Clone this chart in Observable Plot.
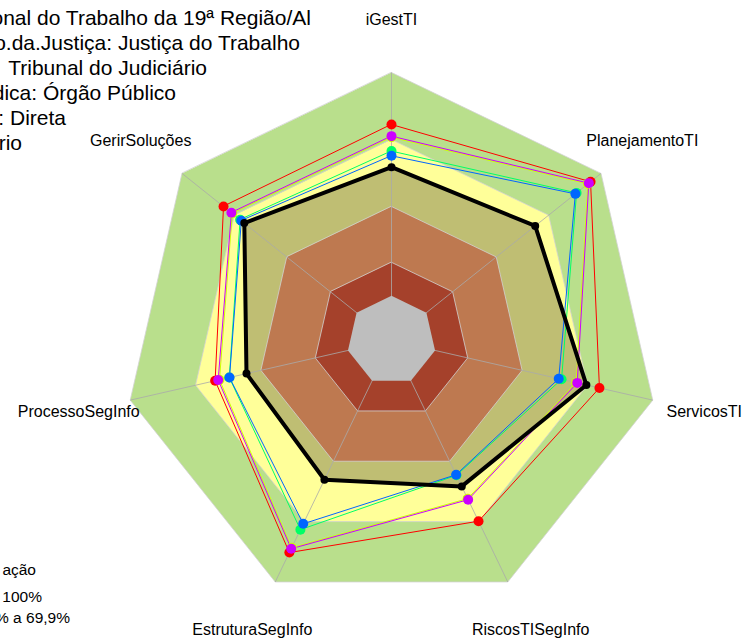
<!DOCTYPE html>
<html><head><meta charset="utf-8">
<script src="https://cdn.jsdelivr.net/npm/d3@7"></script>
<script src="https://cdn.jsdelivr.net/npm/@observablehq/plot@0.6"></script>
<style>
html,body{margin:0;padding:0;background:#fff;overflow:hidden;width:744px;height:641px}
#wrap{position:relative;width:744px;height:641px;overflow:hidden}
#overlay{position:absolute;left:0;top:0;pointer-events:none}
</style></head><body><div id="wrap"></div>
<script>
// Axes (clockwise from top)
const axes = ["iGestTI","PlanejamentoTI","ServicosTI","RiscosTISegInfo","EstruturaSegInfo","ProcessoSegInfo","GerirSoluções"];

// Series values (%)
const serieRed    = [76.7, 94.0, 75.5, 69.8, 85.4, 61.0, 76.2];
const serieLime   = [71.0, 92.5, 64.8, 58.6, 83.0, 59.0, 71.2];
const serieGreen  = [64.8, 86.0, 58.1, 47.0, 74.0, 54.5, 66.7];
const serieBlue   = [62.7, 85.3, 56.8, 46.7, 71.1, 54.4, 66.0];
const seriePurple = [71.5, 93.0, 65.3, 59.1, 83.5, 59.6, 71.7];
const serieOrgao  = [57.6, 62.3, 69.5, 52.5, 49.2, 46.6, 64.3];

// Classification band limits (%)
const bandLevels = [100, 70, 40, 15, 0];

// Text (the block is cut at the left edge, as in the reference)
const infoLines = ["onal do Trabalho da 19ª Região/Al","o.da.Justiça: Justiça do Trabalho","Tribunal do Judiciário","dica: Órgão Público",": Direta","rio"];
const legendLines = ["ação","100%","% a 69,9%"];

const ang = i => i * 2 * Math.PI / 7;
const rad = v => 1/6 + (v / 100) * 5/6;
const X = d => rad(d.v) * Math.sin(ang(d.i));
const Y = d => rad(d.v) * Math.cos(ang(d.i));
const rows = vals => vals.map((v, i) => ({axis: axes[i], i, v}));
const band = lv => axes.map((a, i) => ({axis: a, i, v: lv}));

const bandFill = {100: "#B9DF8C", 70: "#FFFF99", 40: "#BE7950", 15: "#A5412B", 0: "#BEBEBE"};

const font = "'Liberation Sans', Arial, sans-serif";

const seriesDraw = [
  [serieRed, "#FF0000"],
  [serieLime, "#CCFF00"],
  [serieGreen, "#00FF66"],
  [serieBlue, "#0066FF"],
  [seriePurple, "#CC00FF"]
];

const marks = [];
const bandMark = lv => Plot.line(band(lv), {x: X, y: Y, curve: "linear-closed", fill: bandFill[lv], stroke: lv === 0 ? "none" : "#d2d2d2", strokeWidth: 0.8});
marks.push(bandMark(100), bandMark(70));
marks.push(Plot.line(rows(serieOrgao), {x: X, y: Y, curve: "linear-closed", fill: "#BFBE73", stroke: "none"}));
marks.push(bandMark(40), bandMark(15));
marks.push(Plot.link(axes.map((a, i) => ({i})), {x1: 0, y1: 0, x2: d => Math.sin(ang(d.i)), y2: d => Math.cos(ang(d.i)), stroke: "#aaaaaa", strokeWidth: 1, strokeOpacity: 0.8}));
marks.push(bandMark(0));
for (const [vals, col] of seriesDraw) {
  marks.push(Plot.line(rows(vals), {x: X, y: Y, curve: "linear-closed", stroke: col, strokeWidth: 1}));
}
marks.push(Plot.line(rows(serieOrgao), {x: X, y: Y, curve: "linear-closed", stroke: "#000", strokeWidth: 4, strokeLinejoin: "round"}));
for (const [vals, col] of seriesDraw) {
  marks.push(Plot.dot(rows(vals), {x: X, y: Y, r: 5, fill: col, stroke: "none"}));
}
marks.push(Plot.dot(rows(serieOrgao), {x: X, y: Y, r: 4, fill: "#000", stroke: "none"}));
marks.push(Plot.text(axes.map((a, i) => ({a, i})), {
  x: d => 1.197 * Math.sin(ang(d.i)), y: d => 1.197 * Math.cos(ang(d.i)),
  text: d => d.a, fontSize: 16, fill: "#000", textAnchor: "middle"
}));

const chart = Plot.plot({
  width: 744, height: 641, margin: 0,
  x: {domain: [-391/268, 353/268], axis: null},
  y: {domain: [-301/268, 340/268], axis: null},
  style: {fontFamily: font, background: "#fff", overflow: "hidden"},
  marks
});
document.getElementById("wrap").appendChild(chart);

const ov = d3.select("#wrap").append("svg").attr("id", "overlay").attr("width", 744).attr("height", 641);
const infoEnds = [311, 300, 207, 176, 66, 22];
infoLines.forEach((t, k) => {
  ov.append("text").attr("x", infoEnds[k]).attr("y", 24.5 + 25 * k)
    .attr("text-anchor", "end").attr("font-family", font).attr("font-size", 21).attr("fill", "#000").text(t);
});
const legEnds = [36, 42, 70];
const legBase = [575, 602, 623];
legendLines.forEach((t, k) => {
  ov.append("text").attr("x", legEnds[k]).attr("y", legBase[k])
    .attr("text-anchor", "end").attr("font-family", font).attr("font-size", 15.5).attr("fill", "#000").text(t);
});
</script></body></html>
